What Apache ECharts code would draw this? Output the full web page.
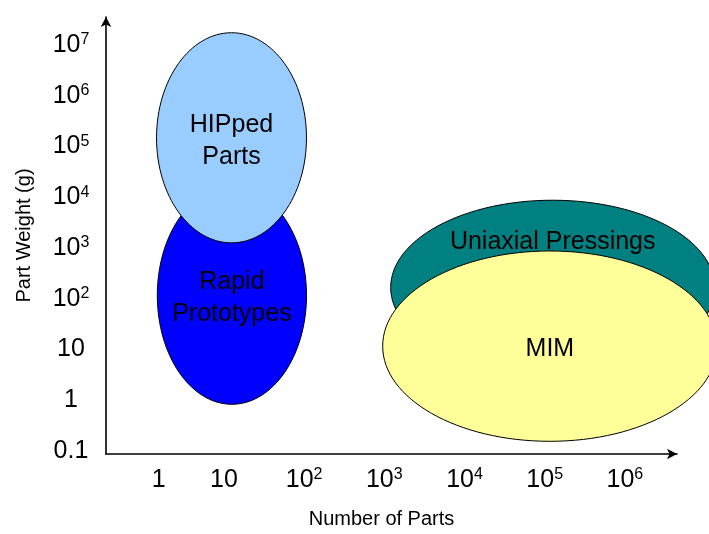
<!DOCTYPE html>
<html>
<head>
<meta charset="utf-8">
<script src="https://cdn.jsdelivr.net/npm/echarts@6/dist/echarts.min.js"></script>
<style>
html,body{margin:0;padding:0;background:#fff;}
#chart{width:709px;height:534px;}
</style>
</head>
<body>
<div id="chart"></div>
<script>
// Regions (values are log10 of the quantity)
const regionNames = ['Rapid\nPrototypes', 'HIPped\nParts', 'Uniaxial Pressings', 'MIM'];
const partsLogLow  = [0.17, 0.16, 3.08, 2.98];
const partsLogHigh = [2.03, 2.03, 7.12, 7.15];
const weightLogLow  = [-0.08, 3.10, 0.50, -0.81];
const weightLogHigh = [4.21, 7.24, 3.94, 2.94];

// Tick labels
const xTickExps = [0, 1, 2, 3, 4, 5, 6];
const xTickLabels = ['1', '10', '10^2', '10^3', '10^4', '10^5', '10^6'];
const yTickExps = [-1, 0, 1, 2, 3, 4, 5, 6, 7];
const yTickLabels = ['0.1', '1', '10', '10^2', '10^3', '10^4', '10^5', '10^6', '10^7'];

const FONT = '"Liberation Sans", Arial, sans-serif';
const fills = ['#0000FF', '#99CCFF', '#008080', '#FFFF99'];
const labelShift = [0, 0, -0.56, 0]; // fraction of vertical radius

function toRich(lbl, special) {
  const parts = lbl.split('^');
  if (special) return '{one|' + parts[0] + '}';
  if (parts.length === 1) return '{b|' + parts[0] + '}';
  return '{b|' + parts[0] + '}{s|' + parts[1] + '}';
}
const richStyles = {
  b: {fontSize: 25, fontFamily: FONT, color: '#000', lineHeight: 26},
  s: {fontSize: 16, fontFamily: FONT, color: '#000', lineHeight: 16, verticalAlign: 'top'},
  one: {fontSize: 25, fontFamily: FONT, color: '#000', lineHeight: 26, padding: [0, 0, 0, 30]}
};

const data = regionNames.map((n, i) => [i, partsLogLow[i], partsLogHigh[i], weightLogLow[i], weightLogHigh[i]]);

const chart = echarts.init(document.getElementById('chart'), null, {renderer: 'canvas'});
chart.setOption({
  animation: false,
  backgroundColor: '#fff',
  grid: {left: 106, right: 32, top: 17, bottom: 76, containLabel: false},
  xAxis: {
    type: 'value', min: -0.47, max: 6.65,
    splitLine: {show: false},
    axisTick: {show: false},
    axisLine: {show: true, onZero: false, lineStyle: {color: '#000', width: 1.6}, symbol: ['none', 'arrow'], symbolSize: [8, 10]},
    axisLabel: {
      customValues: xTickExps,
      margin: 13,
      formatter: function (v) {
        const i = xTickExps.indexOf(Math.round(v));
        if (i < 0) return '';
        return toRich(xTickLabels[i], i === 0);
      },
      rich: richStyles
    },
    name: 'Number of Parts', nameLocation: 'middle', nameGap: 55,
    nameTextStyle: {fontSize: 20, fontFamily: FONT, color: '#000', padding: [0, 20, 0, 0]}
  },
  yAxis: {
    type: 'value', min: -1.06, max: 7.55,
    splitLine: {show: false},
    axisTick: {show: false},
    axisLine: {show: true, onZero: false, lineStyle: {color: '#000', width: 1.6}, symbol: ['none', 'arrow'], symbolSize: [8, 10]},
    axisLabel: {
      customValues: yTickExps,
      margin: 35,
      align: 'center',
      formatter: function (v) {
        const i = yTickExps.indexOf(Math.round(v));
        if (i < 0) return '';
        return toRich(yTickLabels[i], false);
      },
      rich: richStyles
    },
    name: 'Part Weight (g)', nameLocation: 'middle', nameGap: 72,
    nameTextStyle: {fontSize: 20, fontFamily: FONT, color: '#000'}
  },
  series: [{
    type: 'custom',
    clip: false,
    data: data,
    renderItem: function (params, api) {
      const i = api.value(0);
      const p0 = api.coord([api.value(1), api.value(3)]);
      const p1 = api.coord([api.value(2), api.value(4)]);
      const cx = (p0[0] + p1[0]) / 2, cy = (p0[1] + p1[1]) / 2;
      const rx = Math.abs(p1[0] - p0[0]) / 2, ry = Math.abs(p1[1] - p0[1]) / 2;
      return {
        type: 'group',
        children: [
          {type: 'ellipse', shape: {cx: cx, cy: cy, rx: rx, ry: ry},
           style: {fill: fills[i], stroke: '#000', lineWidth: 1}},
          {type: 'text', z2: 10,
           style: {text: regionNames[i], x: cx, y: cy + labelShift[i] * ry + 3,
                   align: 'center', verticalAlign: 'middle',
                   fontSize: 25, fontFamily: FONT, fill: '#000', lineHeight: 32}}
        ]
      };
    }
  }]
});
</script>
</body>
</html>
